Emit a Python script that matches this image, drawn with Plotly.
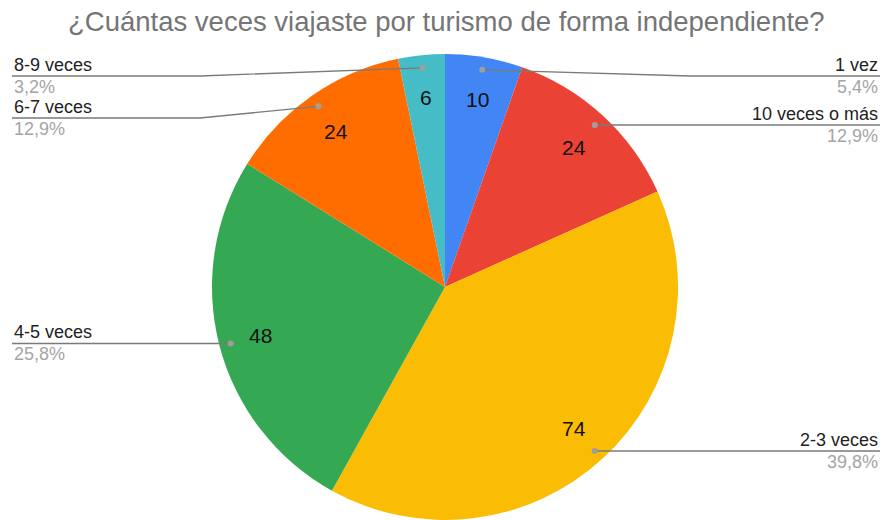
import math
import plotly.graph_objects as go

# ---- data ----
categories = ["1 vez", "10 veces o más", "2-3 veces", "4-5 veces", "6-7 veces", "8-9 veces"]
values = [10, 24, 74, 48, 24, 6]
colors = ["#4285F4", "#EA4335", "#FBBC04", "#34A853", "#FF6D01", "#46BDC6"]
title_text = "¿Cuántas veces viajaste por turismo de forma independiente?"

# ---- layout geometry (pixels) ----
W, H = 883, 520
CX, R = 445.0, 233.0
CY = H - R + 1  # pie domain spans from bottom of the canvas
LBL_K = 0.82   # radius fraction for value labels
DOT_K = 0.95   # radius fraction for leader dots
MIN_LINE_Y = 76
GAP = 42
LEFT_X, RIGHT_X = 12, 880
BEND = 12
FONT = "Liberation Sans, Arial"

def px(x):
    return x / W

def py(y):
    return 1 - y / H

total = sum(values)
fig = go.Figure(go.Pie(
    labels=categories, values=values, sort=False, direction="clockwise",
    rotation=0, marker=dict(colors=colors, line=dict(width=0)),
    textinfo="none", hoverinfo="label+value+percent", showlegend=False,
    domain=dict(x=[px(CX - R), px(CX + R)], y=[0, 2 * R / H]),
))

annotations = []
shapes = []
items = []
cum = 0
for name, v in zip(categories, values):
    mid = (cum + v / 2) / total * 2 * math.pi
    cum += v
    s, c = math.sin(mid), math.cos(mid)
    # value label
    annotations.append(dict(
        x=px(CX + LBL_K * R * s), y=py(CY - LBL_K * R * c), xref="paper", yref="paper",
        xanchor="center", yanchor="middle",
        text=str(v), showarrow=False, font=dict(size=21, color="#111111", family=FONT),
    ))
    dx, dy = CX + DOT_K * R * s, CY - DOT_K * R * c
    pct = f"{v / total * 100:.1f}%".replace(".", ",")
    items.append(dict(name=name, pct=pct, dx=dx, dy=dy, right=s >= 0))

for side in (True, False):
    grp = sorted([it for it in items if it["right"] == side], key=lambda it: it["dy"])
    prev = None
    for it in grp:
        ly = max(it["dy"], MIN_LINE_Y)
        if prev is not None:
            ly = max(ly, prev + GAP)
        prev = ly
        edge = RIGHT_X if side else LEFT_X
        bend = CX + R + BEND if side else CX - R - BEND
        if abs(ly - it["dy"]) < 0.5:
            path = f"M {px(it['dx'])},{py(it['dy'])} L {px(edge)},{py(ly)}"
        else:
            path = (f"M {px(it['dx'])},{py(it['dy'])} L {px(bend)},{py(ly)} "
                    f"L {px(edge)},{py(ly)}")
        shapes.append(dict(type="path", path=path, xref="paper", yref="paper",
                           line=dict(color="#7a7a7a", width=1.3)))
        shapes.append(dict(type="circle", xref="paper", yref="paper",
                           xsizemode="pixel", ysizemode="pixel",
                           xanchor=px(it["dx"]), yanchor=py(it["dy"]),
                           x0=-3, x1=3, y0=-3, y1=3,
                           fillcolor="#9e9e9e", line=dict(width=0)))
        anchor = "right" if side else "left"
        annotations.append(dict(
            x=px(edge), y=py(ly + 1), xref="paper", yref="paper", xanchor=anchor,
            yanchor="bottom", text=it["name"], showarrow=False,
            font=dict(size=18, color="#222222", family=FONT),
        ))
        annotations.append(dict(
            x=px(edge), y=py(ly - 1), xref="paper", yref="paper", xanchor=anchor,
            yanchor="top", text=it["pct"], showarrow=False,
            font=dict(size=18, color="#a5a5a5", family=FONT),
        ))

annotations.append(dict(
    x=px(447), y=py(22), xref="paper", yref="paper", text=title_text,
    xanchor="center", yanchor="middle",
    showarrow=False, font=dict(size=27.5, color="#757575", family=FONT),
))

fig.update_layout(
    width=W, height=H, margin=dict(l=0, r=0, t=0, b=0),
    paper_bgcolor="white", plot_bgcolor="white",
    annotations=annotations, shapes=shapes,
)
fig.write_html("out.html", config={"displayModeBar": False},
               post_script="document.body.style.margin='0';")
